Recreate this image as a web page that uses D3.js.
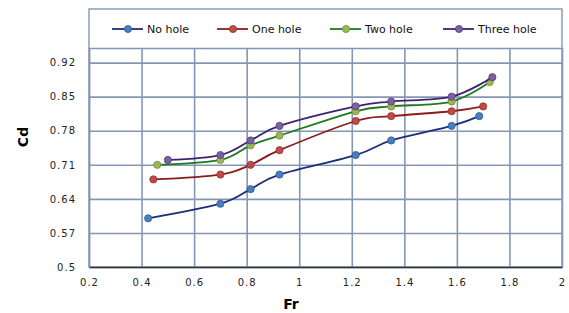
<!DOCTYPE html>
<html>
<head>
<meta charset="utf-8">
<script src="https://cdn.jsdelivr.net/npm/d3@7"></script>
<style>
  body { margin: 0; background: #fff; }
  text { font-family: "DejaVu Sans", Verdana, sans-serif; }
</style>
</head>
<body>
<div id="chart"></div>
<script>
// chart values
var seriesNames = ["No hole", "One hole", "Two hole", "Three hole"];

var frNoHole = [0.425, 0.70, 0.815, 0.925, 1.215, 1.35, 1.58, 1.685];
var cdNoHole = [0.60, 0.63, 0.66, 0.69, 0.73, 0.76, 0.79, 0.81];

var frOneHole = [0.445, 0.70, 0.815, 0.925, 1.215, 1.35, 1.58, 1.70];
var cdOneHole = [0.68, 0.69, 0.71, 0.74, 0.80, 0.81, 0.82, 0.83];

var frTwoHole = [0.46, 0.70, 0.815, 0.925, 1.215, 1.35, 1.58, 1.725];
var cdTwoHole = [0.71, 0.72, 0.75, 0.77, 0.82, 0.83, 0.84, 0.88];

var frThreeHole = [0.50, 0.70, 0.815, 0.925, 1.215, 1.35, 1.58, 1.735];
var cdThreeHole = [0.72, 0.73, 0.76, 0.79, 0.83, 0.84, 0.85, 0.89];

var xTicks = [0.2, 0.4, 0.6, 0.8, 1, 1.2, 1.4, 1.6, 1.8, 2];
var yTicks = [0.5, 0.57, 0.64, 0.71, 0.78, 0.85, 0.92];

var svgWidth = 569;
var svgHeight = 313;

var margin = { top: 48, right: 7, bottom: 46, left: 89 };
var width = svgWidth - margin.left - margin.right;
var height = svgHeight - margin.top - margin.bottom;

var gridColor = "#8397b4";

var styles = [
  { line: "#1b2f78", fill: "#4a7ebb", stroke: "#2f5d95" },
  { line: "#8a1d1b", fill: "#be4b48", stroke: "#8e3331" },
  { line: "#1d7a1f", fill: "#98b954", stroke: "#6f8e3a" },
  { line: "#3f2171", fill: "#7d60a0", stroke: "#574078" }
];

var series = [
  { name: seriesNames[0], fr: frNoHole, cd: cdNoHole },
  { name: seriesNames[1], fr: frOneHole, cd: cdOneHole },
  { name: seriesNames[2], fr: frTwoHole, cd: cdTwoHole },
  { name: seriesNames[3], fr: frThreeHole, cd: cdThreeHole }
];

var svg = d3.select("#chart")
  .append("svg")
  .attr("width", svgWidth)
  .attr("height", svgHeight);

var chartGroup = svg.append("g")
  .attr("transform", `translate(${margin.left}, ${margin.top})`);

var xScale = d3.scaleLinear().domain([0.2, 2]).range([0, width]);
var yScale = d3.scaleLinear().domain([0.5, 0.95]).range([height, 0]);

// gridlines
chartGroup.append("g")
  .call(d3.axisBottom(xScale).tickValues(xTicks).tickSize(-height).tickFormat(""))
  .attr("transform", `translate(0, ${height})`)
  .call(g => g.select(".domain").remove())
  .call(g => g.selectAll("line").attr("stroke", gridColor).attr("stroke-width", 1.6));

chartGroup.append("g")
  .call(d3.axisLeft(yScale).tickValues(yTicks.concat([0.95])).tickSize(-width).tickFormat(""))
  .call(g => g.select(".domain").remove())
  .call(g => g.selectAll("line").attr("stroke", gridColor).attr("stroke-width", 1.6));

// frame incl. legend box
chartGroup.append("rect")
  .attr("x", 0)
  .attr("y", -39)
  .attr("width", width)
  .attr("height", height + 39)
  .attr("fill", "none")
  .attr("stroke", gridColor)
  .attr("stroke-width", 1.4);

// tick labels
var xAxis = chartGroup.append("g")
  .attr("transform", `translate(0, ${height})`)
  .call(d3.axisBottom(xScale).tickValues(xTicks).tickSize(0).tickPadding(12).tickFormat(d3.format("")));
xAxis.select(".domain").attr("stroke", "#333").attr("stroke-width", 1.4);
xAxis.selectAll("text")
  .attr("font-size", "10px")
  .attr("letter-spacing", "1px")
  .attr("fill", "#222")
  .attr("font-family", "DejaVu Sans");

var yAxis = chartGroup.append("g")
  .call(d3.axisLeft(yScale).tickValues(yTicks).tickSize(0).tickPadding(13).tickFormat(d3.format("")));
yAxis.select(".domain").attr("stroke", gridColor).attr("stroke-width", 1.4);
yAxis.selectAll("text")
  .attr("font-size", "10px")
  .attr("letter-spacing", "1px")
  .attr("fill", "#222")
  .attr("font-family", "DejaVu Sans");

// lines
var line = d3.line()
  .x(d => xScale(d[0]))
  .y(d => yScale(d[1]))
  .curve(d3.curveCatmullRom.alpha(0));

series.forEach(function (s, i) {
  var pts = s.fr.map((f, j) => [f, s.cd[j]]);
  chartGroup.append("path")
    .datum(pts)
    .attr("d", line)
    .attr("fill", "none")
    .attr("stroke", styles[i].line)
    .attr("stroke-width", 1.8);

  chartGroup.selectAll(".m" + i)
    .data(pts)
    .enter()
    .append("circle")
    .attr("cx", d => xScale(d[0]))
    .attr("cy", d => yScale(d[1]))
    .attr("r", 3.6)
    .attr("fill", styles[i].fill)
    .attr("stroke", styles[i].stroke)
    .attr("stroke-width", 0.8);
});

// legend
var legendX = [112, 217, 330, 443];
var legend = svg.append("g");
series.forEach(function (s, i) {
  var g = legend.append("g").attr("transform", `translate(${legendX[i]}, 29)`);
  g.append("line")
    .attr("x1", 0).attr("x2", 31)
    .attr("stroke", styles[i].line)
    .attr("stroke-width", 1.8);
  g.append("circle")
    .attr("cx", 16).attr("r", 3.6)
    .attr("fill", styles[i].fill)
    .attr("stroke", styles[i].stroke)
    .attr("stroke-width", 0.8);
  g.append("text")
    .attr("x", 35)
    .attr("y", 4)
    .attr("font-size", "11px")
    .attr("fill", "#111")
    .text(s.name);
});

// axis titles
svg.append("text")
  .attr("x", 291)
  .attr("y", 309)
  .attr("text-anchor", "middle")
  .attr("font-family", "Liberation Sans")
  .attr("font-weight", "bold")
  .attr("font-size", "14px")
  .text("Fr");

svg.append("text")
  .attr("transform", "translate(28, 137) rotate(-90)")
  .attr("text-anchor", "middle")
  .attr("font-family", "Liberation Sans")
  .attr("font-weight", "bold")
  .attr("font-size", "14px")
  .text("Cd");
</script>
</body>
</html>
